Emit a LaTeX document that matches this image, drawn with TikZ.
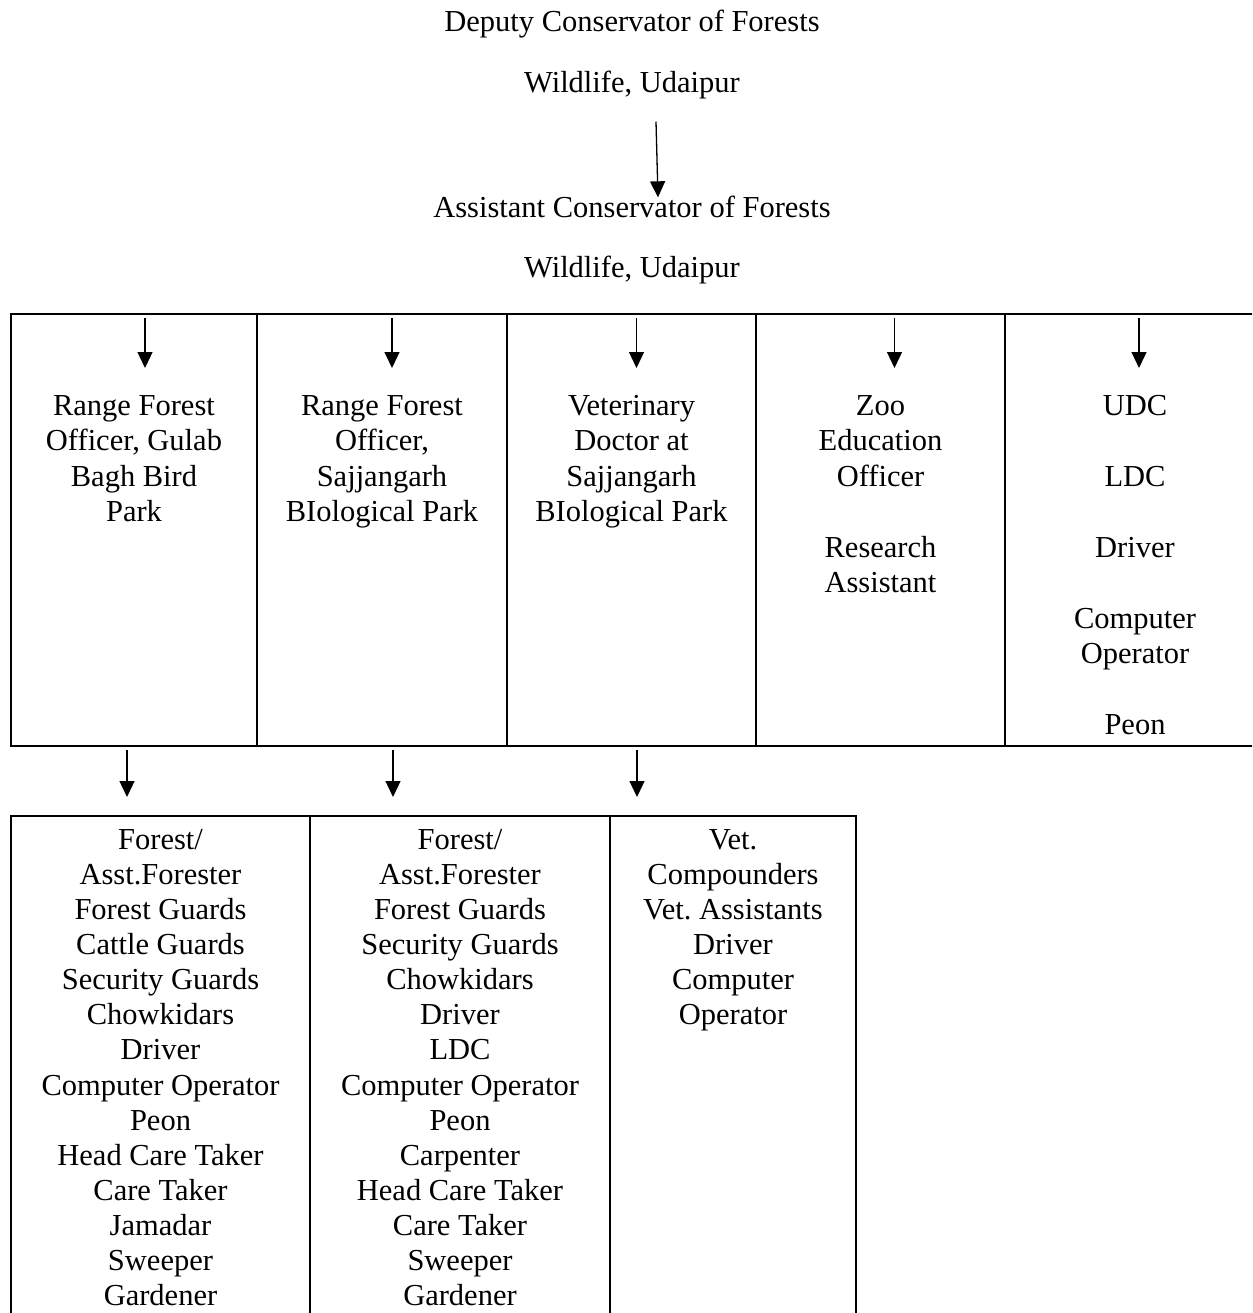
\documentclass[tikz,border=0pt]{standalone}
\usepackage{fontspec}
\setmainfont{Liberation Serif}
\usetikzlibrary{arrows.meta,positioning}
\frenchspacing

\begin{document}
\begin{tikzpicture}[x=1pt,y=1pt,>={Triangle[length=16pt,width=15pt]},
    every node/.style={font=\fontsize{30.5}{35.5}\selectfont,inner sep=0pt},
    cell/.style={draw,line width=2pt,anchor=north west,minimum height=432pt},
    post/.style={align=center,anchor=north},
    staff/.style={post,font=\fontsize{30.5}{35.1}\selectfont},
    link/.style={->,line width=1.3pt}]

  \path[use as bounding box,clip] (0,0) rectangle (1252,-1313);

  % head of the office
  \node[anchor=base] (dcf) at (632,-32) {Deputy Conservator of Forests};
  \node[anchor=base] (dcfloc) at (632,-93) {Wildlife, Udaipur};
  \node[anchor=base] (acf) at (632,-218) {Assistant Conservator of Forests};
  \node[anchor=base] (acfloc) at (632,-278) {Wildlife, Udaipur};
  \draw[link] ([xshift=24pt,yshift=-22pt]dcfloc.south) -- ([xshift=26pt,yshift=-1pt]acf.north);

  % officers under the ACF
  \node[cell,minimum width=246pt] (c1) at (10,-313) {};
  \node[cell,minimum width=250pt] (c2) at (256,-313) {};
  \node[cell,minimum width=249pt] (c3) at (506,-313) {};
  \node[cell,minimum width=249pt] (c4) at (755,-313) {};
  \node[cell,minimum width=260pt] (c5) at (1004,-313) {};

  \node[post,below=82pt of c1.north] (rfogb) {Range Forest\\Officer, Gulab\\Bagh Bird\\Park};
  \node[post,below=82pt of c2.north] (rfosb) {Range Forest\\Officer,\\Sajjangarh\\BIological Park};
  \node[post,below=82pt of c3.north] (vet) {Veterinary\\Doctor at\\Sajjangarh\\BIological Park};
  \node[post,below=82pt of c4.north] (zeo) {Zoo\\Education\\Officer\\[35.5pt]Research\\Assistant};
  \node[post,below=82pt of c5.north] (office) {UDC\\[35.5pt]LDC\\[35.5pt]Driver\\[35.5pt]Computer\\Operator\\[35.5pt]Peon};

  \draw[link] ([xshift=11pt,yshift=-5pt]c1.north) -- ++(0,-50);
  \draw[link] ([xshift=10pt,yshift=-5pt]c2.north) -- ++(0,-50);
  \draw[link] ([xshift=5pt,yshift=-5pt]c3.north) -- ++(0,-50);
  \draw[link] ([xshift=14pt,yshift=-5pt]c4.north) -- ++(0,-50);
  \draw[link] ([xshift=4pt,yshift=-5pt]c5.north) -- ++(0,-50);

  % field staff
  \node[cell,minimum width=299pt,minimum height=515pt] (d1) at (10,-815) {};
  \node[cell,minimum width=300pt,minimum height=515pt] (d2) at (309,-815) {};
  \node[cell,minimum width=246pt,minimum height=515pt] (d3) at (609,-815) {};

  \node[staff,below=14pt of d1.north] (gbstaff) {Forest/\\Asst.Forester\\Forest Guards\\Cattle Guards\\Security Guards\\Chowkidars\\Driver\\Computer Operator\\Peon\\Head Care Taker\\Care Taker\\Jamadar\\Sweeper\\Gardener};
  \node[staff,below=14pt of d2.north] (sbstaff) {Forest/\\Asst.Forester\\Forest Guards\\Security Guards\\Chowkidars\\Driver\\LDC\\Computer Operator\\Peon\\Carpenter\\Head Care Taker\\Care Taker\\Sweeper\\Gardener};
  \node[staff,below=14pt of d3.north] (vetstaff) {Vet.\\Compounders\\Vet. Assistants\\Driver\\Computer\\Operator};

  \draw[link] ([xshift=-7pt,yshift=-3pt]c1.south) -- ([xshift=-33.5pt,yshift=18pt]d1.north);
  \draw[link] ([xshift=11pt,yshift=-3pt]c2.south) -- ([xshift=-67pt,yshift=18pt]d2.north);
  \draw[link] ([xshift=5.5pt,yshift=-3pt]c3.south) -- ([xshift=-96pt,yshift=18pt]d3.north);
\end{tikzpicture}
\end{document}
